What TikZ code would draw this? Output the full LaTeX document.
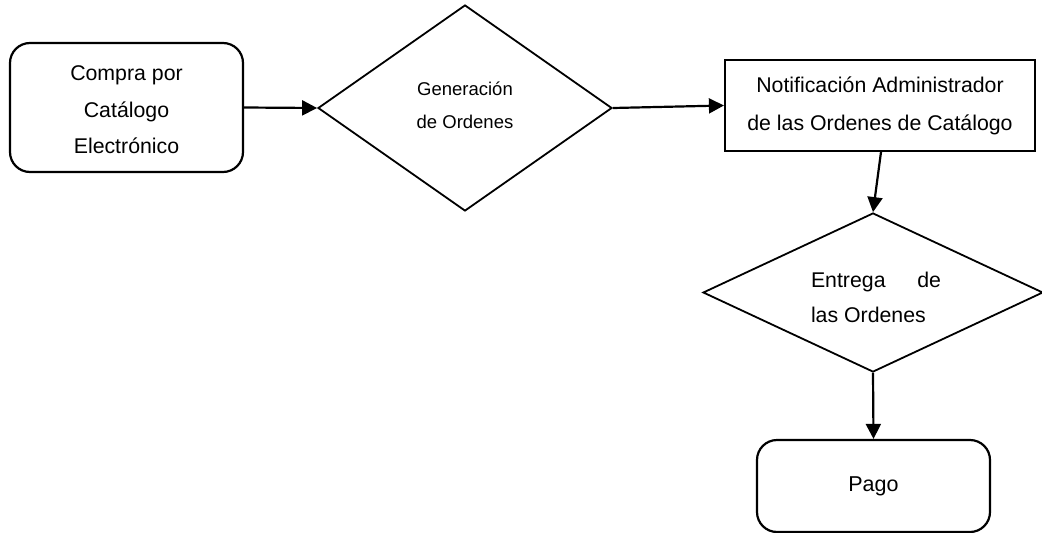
\documentclass[tikz,border=0pt]{standalone}
\usepackage{fontspec}
\setmainfont{Liberation Sans}
\usetikzlibrary{shapes.geometric,arrows.meta}
\begin{document}
\begin{tikzpicture}[x=1pt,y=-1pt,
  every node/.style={inner sep=0pt},
  roundbox/.style={draw,line width=2.2pt,rounded corners=20pt,align=center},
  sqbox/.style={draw,line width=2.2pt,align=center},
  decision/.style={draw,line width=1.8pt,diamond,align=center},
  conn/.style={line width=2.2pt,-{Triangle[length=15pt,width=15pt]}}]
\useasboundingbox (0,0) rectangle (1042,533);
\node[roundbox,minimum width=233pt,minimum height=129pt] (compra) at (126.5,107.5) {};
\node[align=center,font=\fontsize{21.3}{36.5}\selectfont] (compratxt) at (126.5,110) {Compra por\\Catálogo\\Electrónico};
\node[decision,minimum width=294pt,minimum height=206pt] (gen) at (465,108) {};
\node[align=center,font=\fontsize{18.5}{33}\selectfont] (gentxt) at (465,105) {Generación\\de Ordenes};
\node[sqbox,minimum width=310pt,minimum height=91pt,font=\fontsize{21.3}{38}\selectfont] (notif) at (880,105.5) {Notificación Administrador\\de las Ordenes de Catálogo};
\node[decision,minimum width=340pt,minimum height=159pt] (entrega) at (873,292.5) {};
\node[align=left,font=\fontsize{21.3}{35}\selectfont] (entregatxt) at (876,297) {\makebox[130pt][s]{Entrega de}\\las Ordenes};
\node[roundbox,minimum width=233pt,minimum height=92pt,font=\fontsize{21.5}{30}\selectfont] (pago) at (873.5,486) {Pago};
\draw[conn] (compra.east) -- (gen.west);
\draw[conn] (gen.east) -- (notif.west);
\draw[conn] ([xshift=1pt]notif.south) -- (entrega.north);
\draw[conn] (entrega.south) -- (pago.north);
\end{tikzpicture}
\end{document}
